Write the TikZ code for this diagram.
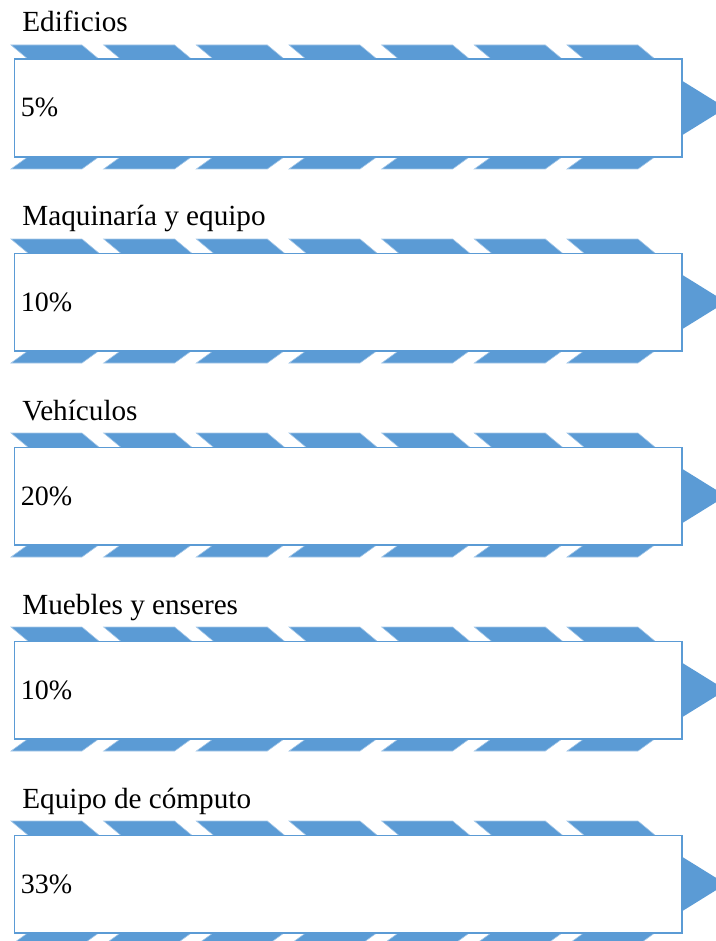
\documentclass[tikz,border=0pt]{standalone}
\usepackage{fontspec}
\setmainfont{Liberation Serif}
\definecolor{acc}{HTML}{5B9BD5}
\begin{document}
\begin{tikzpicture}[x=0.5pt,y=-0.5pt,
  lbl/.style={anchor=base west,inner sep=0pt,font=\fontsize{14.6pt}{17pt}\selectfont},
  pctstyle/.style={anchor=base west,inner sep=0pt,font=\fontsize{14pt}{16pt}\selectfont},
  stripe/.style={fill=acc,draw=acc!55!white,line width=0.3pt},
  boxstyle/.style={draw=acc,fill=white,line width=0.9pt},
  arrowtri/.style={fill=acc}]
\useasboundingbox (0,0) rectangle (716,941);
\clip (0,0) rectangle (716,941);
\foreach \lab/\pct [count=\i from 0] in {Edificios/5\%,Maquinaría y equipo/10\%,Vehículos/20\%,Muebles y enseres/10\%,Equipo de cómputo/33\%}{
  \pgfmathsetmacro{\T}{59+194*\i}
  \pgfmathsetmacro{\B}{\T+98}
  \pgfmathsetmacro{\M}{\T+49}
  % arrow tip
  \fill[arrowtri] (676,\M-31) -- (726,\M) -- (676,\M+31) -- cycle;
  % stripes
  \foreach \k in {0,...,6}{
    \pgfmathsetmacro{\s}{11+92.67*\k}
    \path[stripe] (\s,\T-14) -- ++(71,0) -- ++(18,15) -- ++(-71,0) -- cycle;
    \path[stripe] (\s,\B+12) -- ++(71,0) -- ++(18,-13) -- ++(-71,0) -- cycle;
  }
  % box
  \node[boxstyle,anchor=north west,inner sep=0pt,minimum width=667.5*0.5pt,minimum height=97.5*0.5pt] (box\i) at (13.5,\T-0.5) {};
  \node[lbl] (lab\i) at (22,\T-27) {\lab};
  \node[pctstyle] (pct\i) at (20.5,\T+58) {\pct};
}
\end{tikzpicture}
\end{document}
